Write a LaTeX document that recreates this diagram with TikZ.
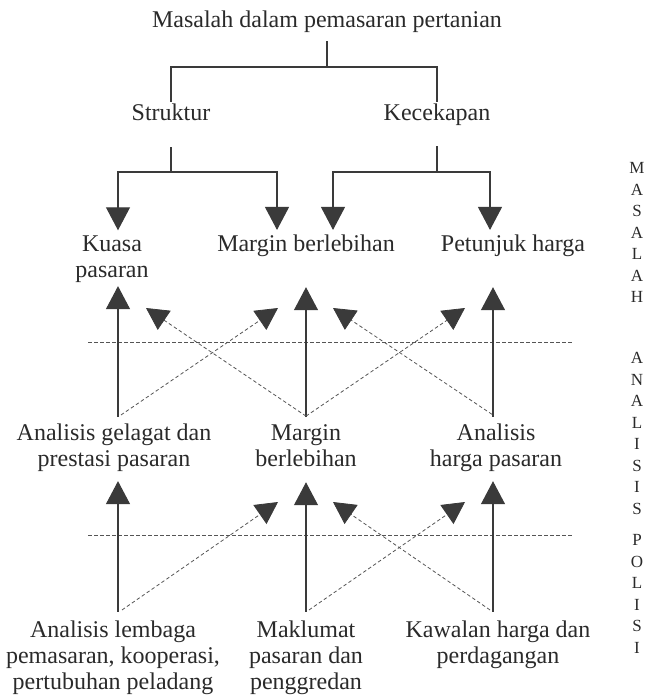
\documentclass[tikz,border=0pt]{standalone}
\usepackage{fontspec}
\setmainfont{Liberation Serif}
\usetikzlibrary{arrows.meta}
\definecolor{txt}{HTML}{2A2A2A}
\definecolor{lin}{HTML}{3A3A3A}
\definecolor{dsh}{HTML}{555555}
\begin{document}
\begin{tikzpicture}[x=1pt,y=-1pt,
  lbl/.style={inner sep=0pt, outer sep=0pt, anchor=base, align=center, text=txt, font=\fontsize{24}{26}\selectfont},
  side/.style={inner sep=0pt, outer sep=0pt, anchor=base, align=center, text=txt, font=\fontsize{17}{21.5}\selectfont},
  ln/.style={draw=lin, line width=1.1pt},
  arr/.style={ln, -{Triangle[length=23pt,width=24pt]}},
  darr/.style={draw=dsh, line width=0.8pt, dash pattern=on 3.5pt off 2.5pt, -{Triangle[length=22pt,width=23pt,color=lin]}},
  sep/.style={draw=dsh, line width=0.8pt, dash pattern=on 3.5pt off 2.5pt}]
\useasboundingbox (0,0) rectangle (649,695);
% nodes (base = baseline of the last line)
\node[lbl] (t) at (327,28) {Masalah dalam pemasaran pertanian};
\node[lbl] (s) at (171,121) {Struktur};
\node[lbl] (k) at (437,121) {Kecekapan};
\node[lbl] (kp) at (112,277) {Kuasa\\pasaran};
\node[lbl] (mb) at (306,251) {Margin berlebihan};
\node[lbl] (ph) at (513,251) {Petunjuk harga};
\node[lbl] (ag) at (114,466) {Analisis gelagat dan\\prestasi pasaran};
\node[lbl] (mb2) at (306,466) {Margin\\berlebihan};
\node[lbl] (ah) at (496,466) {Analisis\\harga pasaran};
\node[lbl] (al) at (113,689) {Analisis lembaga\\pemasaran, kooperasi,\\pertubuhan peladang};
\node[lbl] (mp) at (306,689) {Maklumat\\pasaran dan\\penggredan};
\node[lbl] (kh) at (498,663) {Kawalan harga dan\\perdagangan};
\node[side] (m1) at (637,302.5) {M\\A\\S\\A\\L\\A\\H};
\node[side] (m2) at (637,514) {A\\N\\A\\L\\I\\S\\I\\S};
\node[side] (m3) at (637,653) {P\\O\\L\\I\\S\\I};
% junctions and free ends
\coordinate (j1) at (327,67);
\coordinate (j2) at (171,172);
\coordinate (j3) at (437,172);
\coordinate (u1) at (278,308);
\coordinate (u2) at (146,308);
\coordinate (u3) at (465,308);
\coordinate (u4) at (333,308);
\coordinate (l1) at (278,502);
\coordinate (l2) at (465,502);
\coordinate (l3) at (333,502);
% separators
\draw[sep] (88,342) -- (573,342);
\draw[sep] (88,535) -- (573,535);
% tree
\draw[ln, shorten <=8pt] (t.south) -- (j1);
\draw[ln, shorten <=2.4pt, shorten >=2.4pt] (s.north) |- (j1) -| (k.north);
\draw[ln, shorten <=26pt] (s.south) -- (j2);
\draw[ln, shorten <=20pt] (k.south) -- (j3);
\draw[arr, shorten >=5pt] (j2) -| (118,0 |- kp.north);
\draw[arr, shorten >=4.4pt] (j2) -| (277,0 |- mb.north);
\draw[arr, shorten >=4.4pt] (j3) -| (333,0 |- mb.north);
\draw[arr, shorten >=4.4pt] (j3) -| (490,0 |- ph.north);
% up arrows
\draw[arr, shorten <=6.4pt, shorten >=4pt] (118,0 |- ag.north) -- (118,0 |- kp.south);
\draw[arr, shorten <=7pt, shorten >=31pt] (306,0 |- mb2.north) -- (306,0 |- mb.south);
\draw[arr, shorten <=6.4pt, shorten >=31pt] (493,0 |- ah.north) -- (493,0 |- ph.south);
\draw[arr, shorten <=8.4pt, shorten >=10pt] (118,0 |- al.north) -- (118,0 |- ag.south);
\draw[arr, shorten <=8.4pt, shorten >=16pt] (306,0 |- mp.north) -- (306,0 |- mb2.south);
\draw[arr, shorten <=8.4pt, shorten >=10pt] (493,0 |- kh.north) -- (493,0 |- ah.south);
% dashed arrows
\draw[darr] ([xshift=7pt,yshift=8.4pt]ag.north) -- (u1);
\draw[darr] ([yshift=8pt]mb2.north) -- (u2);
\draw[darr] ([yshift=8pt]mb2.north) -- (u3);
\draw[darr] ([xshift=-4pt,yshift=9pt]ah.north) -- (u4);
\draw[darr] ([xshift=9pt,yshift=10.4pt]al.north) -- (l1);
\draw[darr] ([xshift=3pt,yshift=10.4pt]mp.north) -- (l2);
\draw[darr] ([xshift=-8pt,yshift=10.4pt]kh.north) -- (l3);
\end{tikzpicture}
\end{document}
